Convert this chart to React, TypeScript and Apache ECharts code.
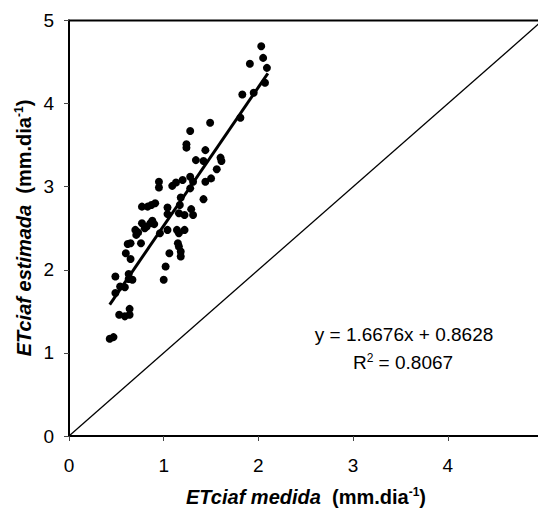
import React, { useEffect, useRef } from "react";
import * as echarts from "echarts";

// Measured (x) vs estimated (y) ETciaf, mm.dia^-1
const measured: number[] = [
  2.03, 2.05, 2.09, 1.91, 2.07, 1.95, 1.83, 1.81, 1.49, 1.28,
  1.24, 1.24, 1.44, 1.34, 1.42, 1.60, 1.61, 1.56, 1.50, 1.44,
  1.31, 1.28, 1.28, 1.20, 1.13, 1.09, 0.95, 0.95, 1.42, 1.18,
  1.17, 1.29, 1.31, 1.22, 1.16, 1.04, 1.04, 0.91, 0.87, 0.83,
  0.77, 0.88, 0.90, 0.82, 0.77, 0.80, 0.70, 0.73, 0.71, 0.76,
  0.65, 0.62, 0.60, 0.65, 0.96, 1.04, 1.14, 1.22, 1.16, 1.15,
  1.16, 1.06, 1.18, 1.18, 1.02, 1.00, 0.63, 0.67, 0.63, 0.49,
  0.54, 0.59, 0.49, 0.53, 0.59, 0.64, 0.64, 0.43, 0.47, 0.86,
];
const estimated: number[] = [
  4.69, 4.55, 4.43, 4.48, 4.25, 4.13, 4.11, 3.83, 3.77, 3.67,
  3.51, 3.47, 3.44, 3.32, 3.31, 3.35, 3.31, 3.21, 3.10, 3.06,
  3.06, 3.12, 2.98, 3.08, 3.05, 3.01, 3.06, 2.99, 2.85, 2.87,
  2.78, 2.73, 2.66, 2.66, 2.68, 2.75, 2.67, 2.80, 2.78, 2.76,
  2.76, 2.59, 2.55, 2.52, 2.56, 2.50, 2.48, 2.45, 2.42, 2.32,
  2.32, 2.31, 2.20, 2.13, 2.44, 2.48, 2.48, 2.48, 2.44, 2.32,
  2.28, 2.20, 2.22, 2.16, 2.04, 1.88, 1.95, 1.88, 1.89, 1.92,
  1.80, 1.79, 1.72, 1.46, 1.44, 1.53, 1.46, 1.17, 1.19, 2.56,
];

// Regression line (as printed on the chart) and its x extent
const slope = 1.6676;
const intercept = 0.8628;
const trendXRange: number[] = [0.43, 2.1];

// 1:1 line
const identityLine: number[][] = [
  [0, 0],
  [5, 5],
];

const axisTicks: number[] = [0, 1, 2, 3, 4, 5];

const FONT = "'Liberation Sans', Arial, Helvetica, sans-serif";

export default function App() {
  const ref = useRef<HTMLDivElement>(null);

  useEffect(() => {
    if (!ref.current) return;
    const chart = echarts.init(ref.current, undefined, { renderer: "svg" });

    const points = measured.map((x, i) => [x, estimated[i]]);
    const trend = trendXRange.map((x) => [x, slope * x + intercept]);

    const richTitle = {
      bi: { fontFamily: FONT, fontSize: 20, fontWeight: "bold", fontStyle: "italic", color: "#000" },
      b: { fontFamily: FONT, fontSize: 20, fontWeight: "bold", color: "#000" },
      sup: { fontFamily: FONT, fontSize: 12, fontWeight: "bold", color: "#000", padding: [0, 0, 10, 0] },
    };
    const richEq = {
      n: { fontFamily: FONT, fontSize: 19, color: "#000" },
      sup: { fontFamily: FONT, fontSize: 12, color: "#000", padding: [0, 0, 9, 0] },
    };

    chart.setOption({
      animation: false,
      backgroundColor: "#fff",
      grid: {
        left: 69,
        top: 20.5,
        right: 1.5,
        bottom: 73,
        show: true,
        borderColor: "#000",
        borderWidth: 2,
        backgroundColor: "transparent",
      },
      xAxis: {
        type: "value",
        min: axisTicks[0],
        max: axisTicks[axisTicks.length - 1],
        interval: 1,
        axisLine: { show: true, onZero: false, lineStyle: { color: "#000", width: 2 } },
        axisTick: { show: true, length: 5, lineStyle: { color: "#444", width: 1 } },
        splitLine: { show: false },
        axisLabel: {
          margin: 20,
          fontSize: 19,
          fontFamily: FONT,
          color: "#000",
          showMaxLabel: false,
        },
      },
      yAxis: {
        type: "value",
        min: axisTicks[0],
        max: axisTicks[axisTicks.length - 1],
        interval: 1,
        axisLine: { show: true, onZero: false, lineStyle: { color: "#000", width: 2 } },
        axisTick: { show: true, length: 5, lineStyle: { color: "#444", width: 1 } },
        splitLine: { show: false },
        axisLabel: { margin: 15, fontSize: 19, fontFamily: FONT, color: "#000" },
      },
      series: [
        {
          type: "line",
          data: identityLine,
          symbol: "none",
          lineStyle: { color: "#000", width: 1.3 },
          z: 2,
        },
        {
          type: "scatter",
          data: points,
          symbol: "circle",
          symbolSize: 8,
          itemStyle: { color: "#000", opacity: 1 },
          z: 3,
        },
        {
          type: "line",
          data: trend,
          symbol: "none",
          lineStyle: { color: "#000", width: 3 },
          z: 4,
        },
      ],
      graphic: [
        {
          type: "text",
          x: 306,
          y: 497,
          style: {
            text: "{bi|ETciaf medida}{b|  (mm.dia}{sup|-1}{b|)}",
            rich: richTitle,
            align: "center",
            verticalAlign: "middle",
          },
        },
        {
          type: "text",
          x: 24,
          y: 228,
          rotation: Math.PI / 2,
          style: {
            text: "{bi|ETciaf estimada}{b|  (mm.dia}{sup|-1}{b|)}",
            rich: richTitle,
            align: "center",
            verticalAlign: "middle",
          },
        },
        {
          type: "text",
          x: 404,
          y: 334,
          style: {
            text: "{n|y = 1.6676x + 0.8628}",
            rich: richEq,
            align: "center",
            verticalAlign: "middle",
          },
        },
        {
          type: "text",
          x: 403,
          y: 362,
          style: {
            text: "{n|R}{sup|2}{n| = 0.8067}",
            rich: richEq,
            align: "center",
            verticalAlign: "middle",
          },
        },
      ],
    });

    return () => chart.dispose();
  }, []);

  return (
    <div
      style={{
        position: "absolute",
        left: 0,
        top: 0,
        width: 538,
        height: 509,
        overflow: "hidden",
        background: "#fff",
      }}
    >
      <div ref={ref} style={{ width: 544, height: 509 }} />
    </div>
  );
}
